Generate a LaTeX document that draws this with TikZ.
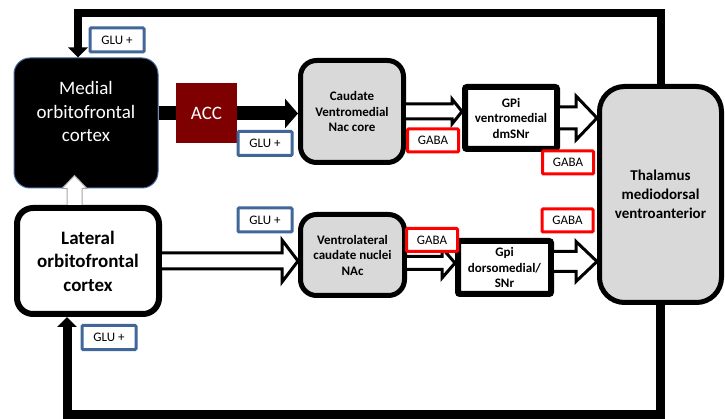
\documentclass[tikz,border=0pt]{standalone}
\usepackage{fontspec}
\setmainfont{Carlito}
\usepackage{tikz}
\usetikzlibrary{arrows.meta,calc,positioning}

\definecolor{boxgray}{HTML}{D9D9D9}
\definecolor{accred}{HTML}{7F0000}
\definecolor{glublue}{HTML}{41679A}

% hollow block arrow: start, target, shaft, head, head length
\newcommand{\hollowarrow}[5]{%
  \draw[line width=3pt, fill=white, line join=miter]
    let \p1=(#1), \p2=(#2) in
    (\x1,\y1+#3/2) -- (\x2-#5,\y1+#3/2) -- (\x2-#5,\y1+#4/2) -- (\x2,\y1)
    -- (\x2-#5,\y1-#4/2) -- (\x2-#5,\y1-#3/2) -- (\x1,\y1-#3/2);
}

\begin{document}
\begin{tikzpicture}[x=1pt,y=-1pt,
    region/.style={draw=black, line width=5pt, rounded corners=16pt, fill=boxgray,
      align=center, inner sep=0pt, font=\bfseries\fontsize{13}{15.5}\selectfont},
    relay/.style={region, fill=white, line width=6pt, rounded corners=2pt},
    cortex/.style={region, line width=6pt, fill=white,
      font=\bfseries\fontsize{19}{23.5}\selectfont},
    glu/.style={draw=glublue, line width=3pt, fill=white, rounded corners=1pt,
      minimum width=54pt, minimum height=24pt, inner sep=0pt,
      font=\fontsize{13}{15}\selectfont},
    gaba/.style={glu, draw=red, minimum width=51pt, minimum height=23pt},
    fbline/.style={line width=8pt, line join=miter, line cap=butt,
      -{Triangle[length=10pt,width=19pt]}}]

  \useasboundingbox (0,0) rectangle (725,419);

  % cortex
  \node[region, fill=black, draw=glublue, line width=1pt, text=white,
    minimum width=144pt, minimum height=130pt,
    font=\fontsize{19}{23.5}\selectfont] (med) at (86,123)
    {\raisebox{5pt}[0pt][0pt]{\begin{tabular}{@{}c@{}}Medial\\orbitofrontal\\cortex\end{tabular}}};
  \node[cortex, minimum width=142pt, minimum height=106pt] (lat) at (88,261)
    {Lateral\\orbitofrontal\\cortex};
  \node[fill=accred, text=white, minimum width=61pt, minimum height=60pt,
    font=\fontsize{19}{22}\selectfont] (acc) at (206.5,113.5) {ACC};

  % striatum and pallidum
  \node[region, minimum width=103pt, minimum height=102pt] (cvm) at (352,111.5)
    {Caudate\\Ventromedial\\Nac core};
  \node[region, minimum width=104pt, minimum height=81pt] (vlc) at (352.5,255)
    {Ventrolateral\\caudate nuclei\\NAc};
  \node[relay, minimum width=92pt, minimum height=62pt] (gpivm) at (511,118)
    {GPi\\ventromedial\\dmSNr};
  \node[relay, minimum width=93pt, minimum height=53pt] (gpidm) at (504.5,267.5)
    {Gpi\\dorsomedial/\\SNr};

  % thalamus
  \node[region, rounded corners=25pt, minimum width=122pt, minimum height=216pt,
    font=\bfseries\fontsize{15}{19}\selectfont] (thal) at (660.5,194.5)
    {Thalamus\\mediodorsal\\ventroanterior};

  % feedback loops
  \coordinate (fbtop) at (78,13);
  \coordinate (fbbot) at (67,414);
  \draw[fbline] (thal.north) |- (fbtop) -- (fbtop |- med.north);
  \draw[fbline, line width=9pt] (thal.south) |- (fbbot) -- (fbbot |- lat.south);

  % glutamate path through ACC
  \draw[line width=14pt] (med.east |- acc.west) -- (acc.west);
  \draw[line width=14pt, -{Triangle[length=13pt,width=29pt]}]
    (acc.east) -- (acc.east -| cvm.west);

  % hollow arrows
  \hollowarrow{lat.east}{vlc.west}{16pt}{42pt}{16pt}
  \hollowarrow{cvm.east}{gpivm.west}{15pt}{25pt}{10pt}
  \hollowarrow{gpivm.east}{thal.west}{22pt}{44pt}{21pt}
  \hollowarrow{[yshift=-8pt]vlc.east}{gpidm.west}{13pt}{30pt}{13pt}
  \hollowarrow{[yshift=6pt]gpidm.east}{thal.west}{20pt}{40pt}{21pt}

  \coordinate (upx) at (74.5,0);
  \draw[fill=white, draw=gray!70, line width=1pt]
    let \p1=(upx |- lat.north), \p2=(upx |- med.south) in
    (\x1-7.5pt,\y1) -- (\x1-7.5pt,\y2) -- (\x1-12.5pt,\y2) -- (\x1,\y2+13pt)
    -- (\x1+12.5pt,\y2) -- (\x1+7.5pt,\y2) -- (\x1+7.5pt,\y1);

  % transmitter labels
  \node[glu] (glu1) at (117,40) {GLU +};
  \node[glu] (glu2) at (265,143.5) {GLU +};
  \node[glu] (glu3) at (265,220) {GLU +};
  \node[glu] (glu4) at (109,337.5) {GLU +};
  \node[gaba] (gaba1) at (433,140.5) {GABA};
  \node[gaba] (gaba2) at (568,162.5) {GABA};
  \node[gaba] (gaba3) at (567.5,220.5) {GABA};
  \node[gaba] (gaba4) at (432,240) {GABA};
\end{tikzpicture}
\end{document}
